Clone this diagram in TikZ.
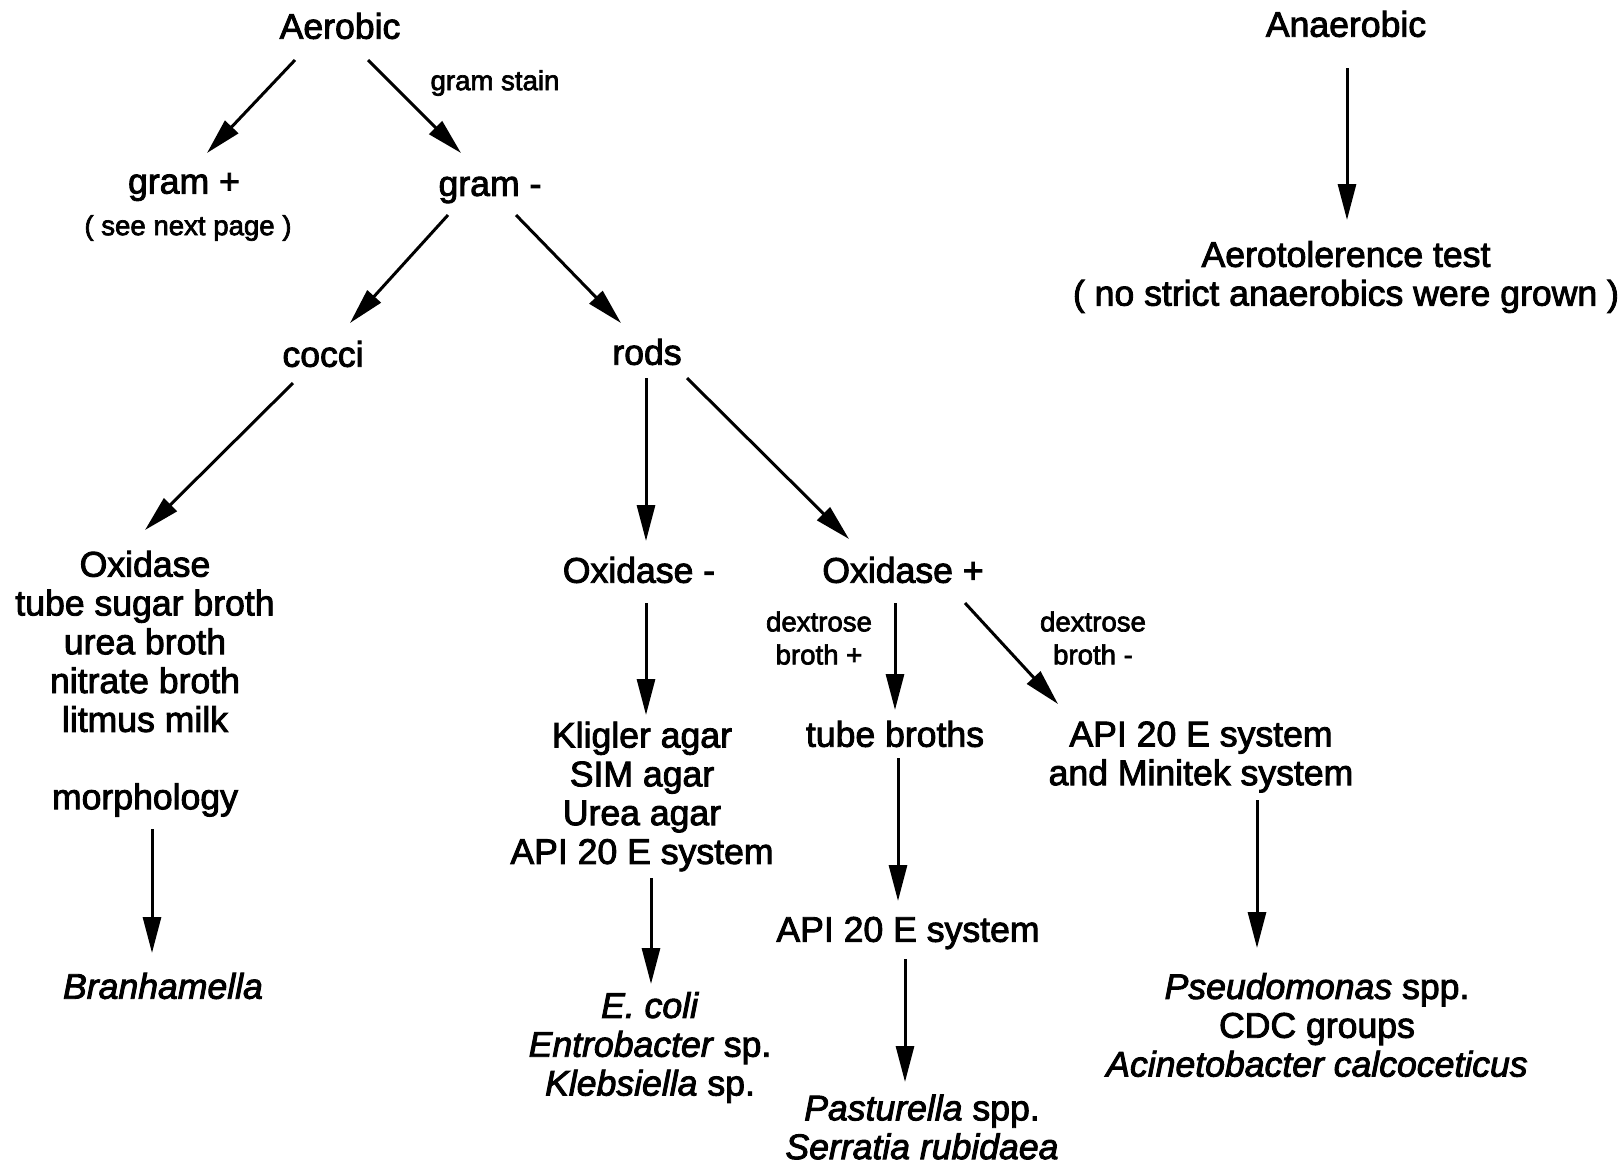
\documentclass[tikz,border=0pt]{standalone}
\usepackage{fontspec}
\setmainfont{Liberation Sans}[UprightFeatures={FakeBold=2.5},ItalicFeatures={FakeBold=2.5}]
\usetikzlibrary{arrows.meta}
\begin{document}
\begin{tikzpicture}[x=0.5pt,y=-0.5pt,
  lbl/.style={inner sep=0pt,align=center,font=\fontsize{17.8pt}{19.4pt}\selectfont},
  sml/.style={inner sep=0pt,align=center,font=\fontsize{13.8pt}{16.5pt}\selectfont},
  arr/.style={line width=1.5pt,-{Triangle[length=18pt,width=9pt]}}]
\fill[white] (0,0) rectangle (1624,1164);
\useasboundingbox (0,0) rectangle (1624,1164);
% nodes
\node[lbl] (A) at (340,26) {Aerobic};
\node[lbl] (An) at (1346,24) {Anaerobic};
\node[sml] (gs) at (495,83) {gram stain};
\node[lbl] (gp) at (184,187) {gram +};
\node[sml] (gpn) at (188,228) {( see next page )};
\node[lbl] (gm) at (490,190) {gram -};
\node[lbl] (cocci) at (323,354) {cocci};
\node[lbl] (rods) at (647,352) {rods};
\node[lbl] (aero) at (1346,277) {Aerotolerence test\\( no strict anaerobics were grown )};
\node[lbl] (ox) at (145,641.5) {Oxidase\\tube sugar broth\\urea broth\\nitrate broth\\litmus milk};
\node[lbl] (morph) at (145,800) {morphology};
\node[lbl] (bran) at (163,986) {\itshape Branhamella};
\node[lbl] (oxm) at (639,570) {Oxidase -};
\node[lbl] (oxp) at (903,570) {Oxidase +};
\node[lbl] (klig) at (642,796.5) {Kligler agar\\SIM agar\\Urea agar\\API 20 E system};
\node[lbl] (ecoli) at (650,1047.5) {\textit{E. coli}\\\textit{Entrobacter} sp.\\\textit{Klebsiella} sp.};
\node[sml] (dp) at (819,638) {dextrose\\broth +};
\node[sml] (dm) at (1093,638) {dextrose\\broth -};
\node[lbl] (tb) at (895,734) {tube broths};
\node[lbl] (api2) at (1201,757) {API 20 E system\\and Minitek system};
\node[lbl] (api1) at (908,933) {API 20 E system};
\node[lbl] (past) at (922,1127) {\textit{Pasturella} spp.\\\textit{Serratia rubidaea}};
\node[lbl] (pseudo) at (1317,1025) {\textit{Pseudomonas} spp.\\CDC groups\\\textit{Acinetobacter calcoceticus}};
% connectors
\draw[arr] ([shift={(-45,34)}]A.center) -- ([shift={(23,-34)}]gp.center);
\draw[arr] ([shift={(28,34)}]A.center) -- ([shift={(-29,-37)}]gm.center);
\draw[arr] ([shift={(-42,25)}]gm.center) -- ([shift={(27,-31)}]cocci.center);
\draw[arr] ([shift={(26,25)}]gm.center) -- ([shift={(-26,-29)}]rods.center);
\draw[arr] ([shift={(1,44)}]An.center) -- ([shift={(1,-57)}]aero.center);
\draw[arr] ([shift={(-30,29)}]cocci.center) -- ([shift={(0,-111.5)}]ox.center);
\draw[arr] ([shift={(7,29)}]morph.center) -- ([shift={(-11,-33)}]bran.center);
\draw[arr] ([shift={(-1,26)}]rods.center) -- ([shift={(7,-29)}]oxm.center);
\draw[arr] ([shift={(40,26)}]rods.center) -- ([shift={(-54,-31)}]oxp.center);
\draw[arr] ([shift={(7,33)}]oxm.center) -- ([shift={(4,-81.5)}]klig.center);
\draw[arr] ([shift={(9,81.5)}]klig.center) -- ([shift={(1,-63.5)}]ecoli.center);
\draw[arr] ([shift={(-8,33)}]oxp.center) -- ([shift={(0,-24)}]tb.center);
\draw[arr] ([shift={(62,33)}]oxp.center) -- ([shift={(-143,-53)}]api2.center);
\draw[arr] ([shift={(3,24)}]tb.center) -- ([shift={(-10,-32)}]api1.center);
\draw[arr] ([shift={(-3,26)}]api1.center) -- ([shift={(-17,-45)}]past.center);
\draw[arr] ([shift={(56,43)}]api2.center) -- ([shift={(-60,-77)}]pseudo.center);
\end{tikzpicture}
\end{document}
